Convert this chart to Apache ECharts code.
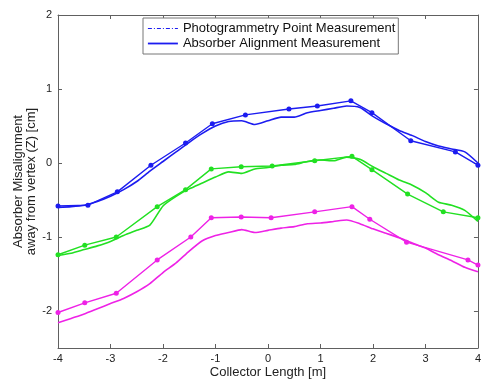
<!DOCTYPE html>
<html>
<head>
<meta charset="utf-8">
<script src="https://cdn.jsdelivr.net/npm/echarts@6/dist/echarts.min.js"></script>
<style>
  html, body { margin: 0; padding: 0; background: #fff; }
  #chart { width: 484px; height: 384px; }
</style>
</head>
<body>
<div id="chart"></div>
<script>
// tick values
var xTicks = [-4, -3, -2, -1, 0, 1, 2, 3, 4];
var yTicks = [-2, -1, 0, 1, 2];

// photogrammetry points (x, y) per row
var bluePts = [[-4, -0.58], [-3.43, -0.57], [-2.87, -0.39], [-2.23, -0.03], [-1.57, 0.27], [-1.06, 0.53],
  [-0.43, 0.65], [0.40, 0.73], [0.94, 0.77], [1.58, 0.84], [1.98, 0.68], [2.72, 0.30], [3.57, 0.15], [4, -0.03]];
var greenPts = [[-4, -1.24], [-3.49, -1.11], [-2.89, -1.0], [-2.11, -0.59], [-1.57, -0.36], [-1.08, -0.08],
  [-0.51, -0.05], [0.08, -0.04], [0.89, 0.03], [1.6, 0.09], [1.98, -0.09], [2.66, -0.42], [3.34, -0.66], [4, -0.74]];
var magentaPts = [[-4, -2.02], [-3.49, -1.89], [-2.89, -1.76], [-2.11, -1.31], [-1.47, -1.0], [-1.08, -0.74],
  [-0.51, -0.73], [0.06, -0.74], [0.89, -0.66], [1.6, -0.59], [1.94, -0.76], [2.64, -1.07], [3.81, -1.31], [4, -1.38]];

// absorber alignment measurement, sampled every 0.25 m
var absX = [-4, -3.75, -3.5, -3.25, -3, -2.75, -2.5, -2.25, -2, -1.75, -1.5, -1.25, -1, -0.75, -0.5, -0.25, 0,
  0.25, 0.5, 0.75, 1, 1.25, 1.5, 1.75, 2, 2.25, 2.5, 2.75, 3, 3.25, 3.5, 3.75, 4];
var blueAbs = [-0.6, -0.59, -0.57, -0.52, -0.45, -0.36, -0.25, -0.11, 0.02, 0.15, 0.28, 0.4, 0.5, 0.56, 0.57,
  0.52, 0.57, 0.62, 0.62, 0.68, 0.71, 0.74, 0.77, 0.75, 0.63, 0.53, 0.44, 0.37, 0.29, 0.23, 0.19, 0.15, 0.0];
var greenAbs = [-1.25, -1.22, -1.17, -1.12, -1.06, -0.98, -0.91, -0.84, -0.58, -0.45, -0.35, -0.27, -0.19,
  -0.12, -0.14, -0.08, -0.06, -0.03, -0.02, 0.02, 0.04, 0.03, 0.08, 0.05, -0.05, -0.14, -0.23, -0.3, -0.4,
  -0.53, -0.57, -0.64, -0.79];
var magentaAbs = [-2.16, -2.1, -2.04, -1.97, -1.9, -1.83, -1.74, -1.63, -1.48, -1.35, -1.19, -1.05, -0.98,
  -0.94, -0.9, -0.94, -0.91, -0.88, -0.86, -0.82, -0.81, -0.79, -0.77, -0.82, -0.89, -0.95, -1.01, -1.08,
  -1.15, -1.24, -1.32, -1.41, -1.47];

var BLUE = '#1c1cf0', GREEN = '#22e022', MAGENTA = '#ee22e6';
var FONT = 'Liberation Sans';

function zipX(ys) { return ys.map(function (v, i) { return [absX[i], v]; }); }

function ptsSeries(name, data, color) {
  return {
    name: name, type: 'line', data: data, symbol: 'circle', symbolSize: 5,
    itemStyle: { color: color }, lineStyle: { color: color, width: 1.4 },
    silent: true, z: 3
  };
}
function absSeries(name, data, color) {
  return {
    name: name, type: 'line', data: zipX(data), symbol: 'none', smooth: 0.2,
    itemStyle: { color: color }, lineStyle: { color: color, width: 1.6 },
    silent: true, z: 2
  };
}

var axisCol = '#606060';
var chart = echarts.init(document.getElementById('chart'), null, { renderer: 'canvas' });
chart.setOption({
  animation: false,
  backgroundColor: '#fff',
  textStyle: { fontFamily: FONT },
  grid: { left: 58, right: 2, top: 15, bottom: 36 },
  legend: {
    orient: 'vertical', left: 143, top: 18,
    padding: [4, 3, 4, 4], itemGap: 2, itemWidth: 30, itemHeight: 13,
    backgroundColor: '#fff', borderColor: '#777', borderWidth: 1, borderRadius: 0,
    itemStyle: { opacity: 0 },
    textStyle: { fontSize: 13, color: '#111', fontFamily: FONT },
    data: [
      { name: 'Photogrammetry Point Measurement', lineStyle: { type: [4, 2, 1, 2], width: 1.2 } },
      { name: 'Absorber Alignment Measurement', lineStyle: { width: 1.8 } }
    ]
  },
  xAxis: [{
    type: 'value', min: -4, max: 4, interval: 1, position: 'bottom',
    name: 'Collector Length [m]', nameLocation: 'middle', nameGap: 18, nameMoveOverlap: false,
    nameTextStyle: { fontSize: 13, color: '#222', verticalAlign: 'top' },
    axisLine: { onZero: false, lineStyle: { color: axisCol } },
    axisTick: { inside: true, length: 4, lineStyle: { color: axisCol } },
    axisLabel: { fontSize: 11, color: '#222', margin: 5, customValues: xTicks },
    splitLine: { show: false }
  }, {
    type: 'value', min: -4, max: 4, interval: 1, position: 'top',
    axisLine: { onZero: false, lineStyle: { color: axisCol } },
    axisTick: { inside: true, length: 4, lineStyle: { color: axisCol } },
    axisLabel: { show: false }, splitLine: { show: false }
  }],
  yAxis: [{
    type: 'value', min: -2.5, max: 2, position: 'left',
    name: 'Absorber Misalignment\naway from vertex (Z) [cm]', nameLocation: 'middle', nameGap: 20,
    nameMoveOverlap: false,
    nameTextStyle: { fontSize: 13, color: '#222', lineHeight: 13 },
    axisLine: { onZero: false, lineStyle: { color: axisCol } },
    axisTick: { inside: true, length: 4, customValues: yTicks, lineStyle: { color: axisCol } },
    axisLabel: { fontSize: 11, color: '#222', margin: 6, customValues: yTicks },
    splitLine: { show: false }
  }, {
    type: 'value', min: -2.5, max: 2, position: 'right',
    axisLine: { onZero: false, lineStyle: { color: axisCol } },
    axisTick: { inside: true, length: 4, customValues: yTicks, lineStyle: { color: axisCol } },
    axisLabel: { show: false }, splitLine: { show: false }
  }],
  series: [
    ptsSeries('Photogrammetry Point Measurement', bluePts, BLUE),
    absSeries('Absorber Alignment Measurement', blueAbs, BLUE),
    ptsSeries('Photogrammetry (green)', greenPts, GREEN),
    absSeries('Absorber (green)', greenAbs, GREEN),
    ptsSeries('Photogrammetry (magenta)', magentaPts, MAGENTA),
    absSeries('Absorber (magenta)', magentaAbs, MAGENTA)
  ]
});
</script>
</body>
</html>
